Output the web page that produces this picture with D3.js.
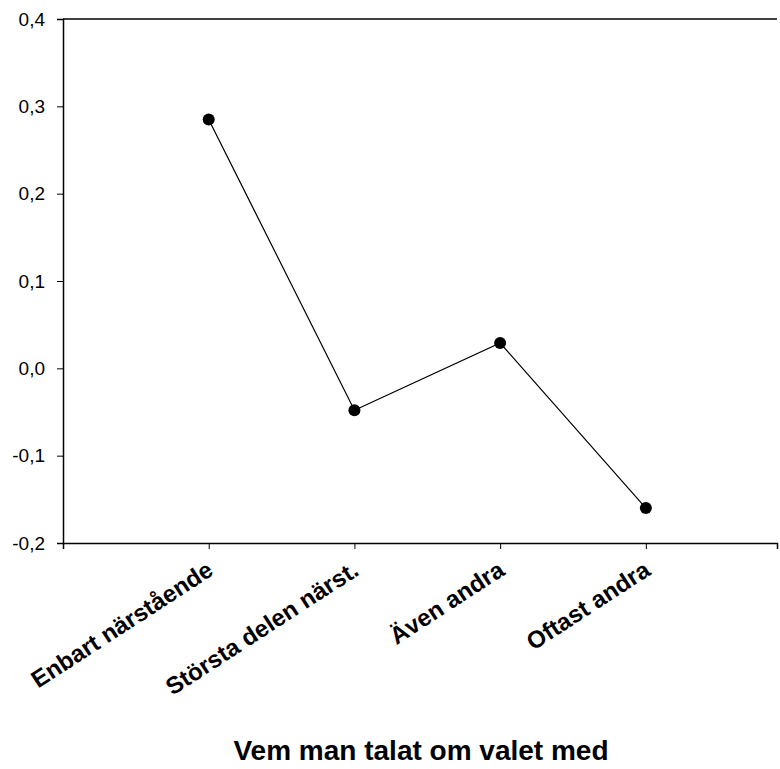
<!DOCTYPE html>
<html>
<head>
<meta charset="utf-8">
<script src="https://d3js.org/d3.v7.min.js"></script>
<style>
  html, body { margin: 0; padding: 0; background: #fff; }
  svg { display: block; font-family: "Liberation Sans", Arial, sans-serif; }
</style>
</head>
<body>
<svg id="chart" width="780" height="769"></svg>
<script>
// Mean score per group of who the vote was discussed with
const categories = ["Enbart närstående", "Största delen närst.", "Även andra", "Oftast andra"];
const values = [0.285, -0.048, 0.029, -0.160];
const yTicks = [-0.2, -0.1, 0.0, 0.1, 0.2, 0.3, 0.4];
const yTickLabels = ["-0,2", "-0,1", "0,0", "0,1", "0,2", "0,3", "0,4"];
const xTitle = "Vem man talat om valet med";

const svg = d3.select("#chart");
const plotLeft = 63, plotRight = 777, plotTop = 19, plotBottom = 543;

// Categories sit at positions 1..4 on a continuous axis
const x = d3.scaleLinear().domain([0, 4.9]).range([plotLeft, plotRight]);
const y = d3.scaleLinear().domain([-0.2, 0.4]).range([plotBottom, plotTop]);

// Top frame line
svg.append("line")
  .attr("x1", plotLeft).attr("x2", plotRight)
  .attr("y1", plotTop).attr("y2", plotTop)
  .attr("stroke", "#000").attr("stroke-width", 1.5);

// Y axis
const yAxis = svg.append("g")
  .attr("transform", `translate(${plotLeft},0)`)
  .call(d3.axisLeft(y)
    .tickValues(yTicks)
    .tickSize(6)
    .tickPadding(12)
    .tickFormat((d, i) => yTickLabels[i]));
yAxis.select(".domain").attr("stroke", "#000").attr("stroke-width", 1.5);
yAxis.selectAll(".tick line").attr("stroke", "#000").attr("stroke-width", 1);
yAxis.selectAll(".tick text")
  .attr("font-family", "Liberation Sans, Arial, sans-serif")
  .attr("font-size", 19)
  .attr("fill", "#000");

// X axis
const xAxis = svg.append("g")
  .attr("transform", `translate(0,${plotBottom})`)
  .call(d3.axisBottom(x)
    .tickValues([1, 2, 3, 4])
    .tickSize(6)
    .tickFormat(""));
xAxis.select(".domain").attr("stroke", "#000").attr("stroke-width", 1.5);
xAxis.selectAll(".tick line").attr("stroke", "#000").attr("stroke-width", 1);

// Rotated category labels
svg.append("g").selectAll("text")
  .data(categories)
  .join("text")
  .attr("transform", (d, i) => `translate(${x(i + 1) + 6},${plotBottom + 31}) rotate(-33)`)
  .attr("text-anchor", "end")
  .attr("font-size", 24)
  .attr("font-weight", "bold")
  .attr("fill", "#000")
  .text(d => d);

// Line connecting the group means
const line = d3.line()
  .x((d, i) => x(i + 1))
  .y(d => y(d));
svg.append("path")
  .datum(values)
  .attr("d", line)
  .attr("fill", "none")
  .attr("stroke", "#000")
  .attr("stroke-width", 1.2);

// Markers
svg.append("g").selectAll("circle")
  .data(values)
  .join("circle")
  .attr("cx", (d, i) => x(i + 1))
  .attr("cy", d => y(d))
  .attr("r", 6)
  .attr("fill", "#000");

// Axis title
svg.append("text")
  .attr("x", 421)
  .attr("y", 760)
  .attr("text-anchor", "middle")
  .attr("font-size", 28)
  .attr("font-weight", "bold")
  .attr("fill", "#000")
  .text(xTitle);
</script>
</body>
</html>
